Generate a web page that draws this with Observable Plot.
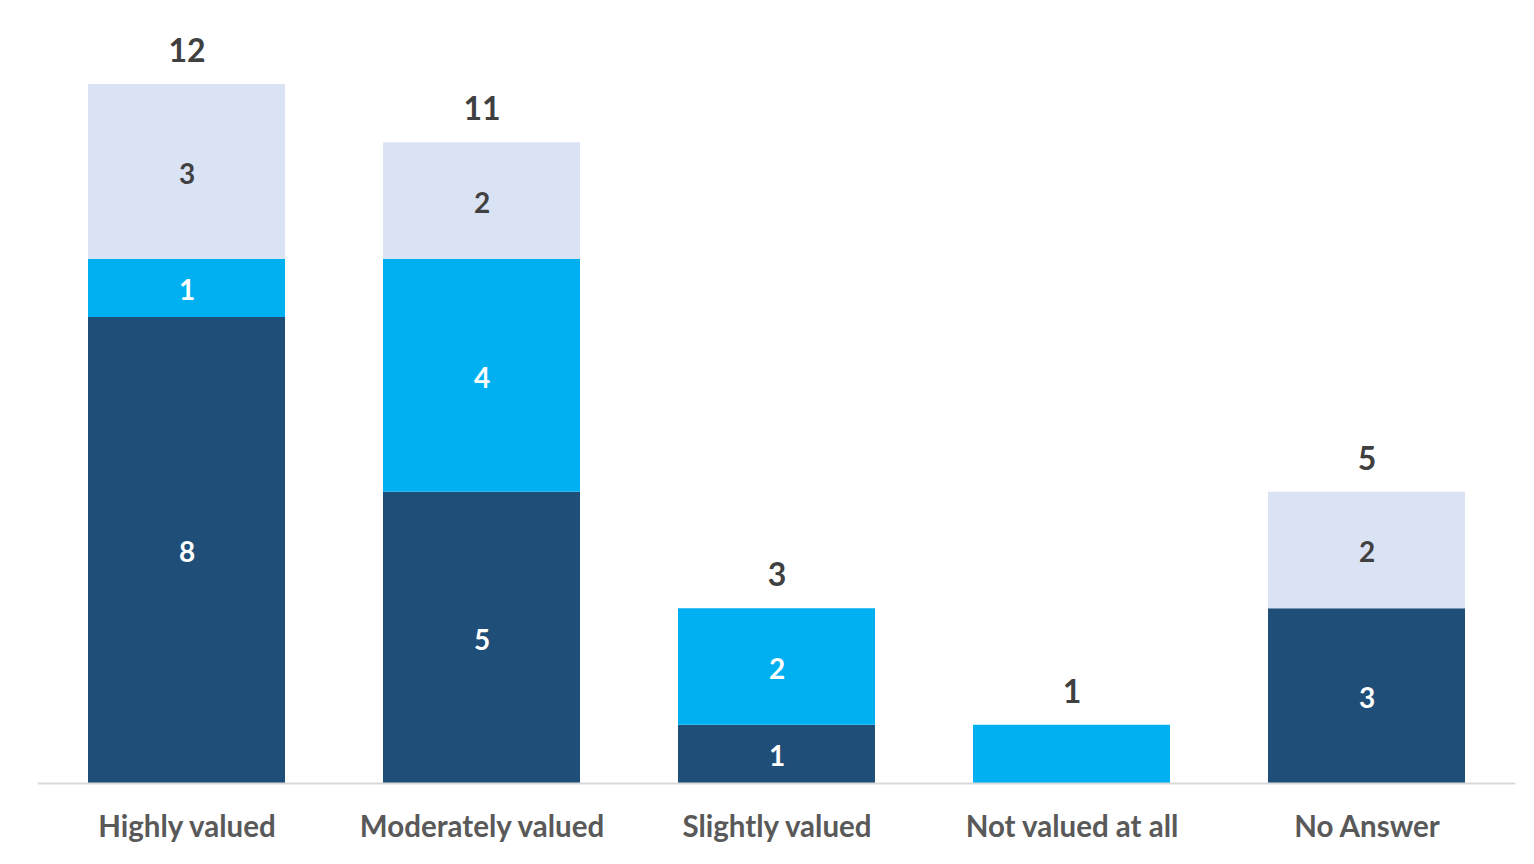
<!DOCTYPE html>
<html>
<head>
<meta charset="utf-8">
<script src="https://cdn.jsdelivr.net/npm/d3@7"></script>
<script src="https://cdn.jsdelivr.net/npm/@observablehq/plot@0.6"></script>
<style>
  html, body { margin: 0; padding: 0; background: #fff; }
  #chart svg { display: block; }
</style>
</head>
<body>
<div id="chart"></div>
<script>
const categories = ["Highly valued", "Moderately valued", "Slightly valued", "Not valued at all", "No Answer"];
const seriesNames = ["Dark", "Bright", "Light"];
const darkValues   = [8, 5, 1, 0, 3];
const brightValues = [1, 4, 2, 1, 0];
const lightValues  = [3, 2, 0, 0, 2];
const seriesColors = ["#1F4E79", "#00B0F0", "#DAE3F3"];
const labelColors  = ["#ffffff", "#ffffff", "#404040"];

const seriesValues = [darkValues, brightValues, lightValues];
const rows = [];
categories.forEach((c, i) => {
  const total = darkValues[i] + brightValues[i] + lightValues[i];
  seriesNames.forEach((s, j) => {
    rows.push({category: c, series: s, value: seriesValues[j][i], order: j, total});
  });
});
const totals = categories.map((c, i) => ({category: c, total: darkValues[i] + brightValues[i] + lightValues[i]}));
const nonZero = rows.filter(d => d.value > 0);

const font = "Lato, 'Open Sans', sans-serif";

const chart = Plot.plot({
  width: 1534,
  height: 864,
  marginLeft: 37.75,
  marginRight: 18.75,
  marginTop: 84,
  marginBottom: 81,
  style: {fontFamily: font, background: "#fff"},
  x: {domain: categories, paddingInner: 0.333, paddingOuter: 0.1667, label: null},
  y: {domain: [0, 12], axis: null},
  color: {domain: seriesNames, range: seriesColors},
  marks: [
    Plot.barY(nonZero, Plot.stackY({
      x: "category", y: "value", fill: "series", order: "order"
    })),
    Plot.text(nonZero, Plot.stackY({
      x: "category", y: "value", order: "order",
      text: d => d.value === d.total ? "" : String(d.value),
      fill: d => labelColors[d.order],
      dy: 3,
      fontSize: 28, fontWeight: "bold", fontFamily: font
    })),
    Plot.text(totals, {
      x: "category", y: "total", text: d => String(d.total),
      dy: -33, fill: "#404040", fontSize: 32, fontWeight: "bold", fontFamily: font
    }),
    Plot.ruleY([0], {stroke: "#D9D9D9", strokeWidth: 2}),
    Plot.axisX({
      tickSize: 0, tickPadding: 33, fontSize: 29.5, fontWeight: "bold",
      fill: "#595959", fontFamily: font, label: null
    })
  ]
});
document.getElementById("chart").append(chart);
</script>
</body>
</html>
